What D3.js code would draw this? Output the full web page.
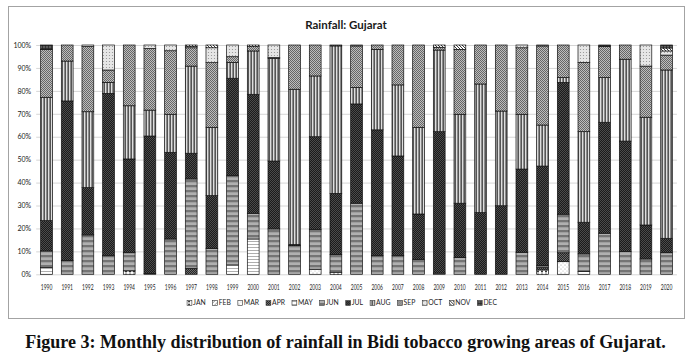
<!DOCTYPE html>
<html>

<script src="https://cdn.jsdelivr.net/npm/d3@7/dist/d3.min.js"></script>

<style>

  body, html {
    padding: 0;
    margin: 0;
    background: #fff;
  }

  svg {
    display: block;
    font-family: Lato, 'Open Sans', sans-serif;
  }

</style>

<body>
  <svg width="691" height="364"></svg>

  <script>

    // shares of annual rainfall (%) per month, 1990 .. 2020
    var years = ['1990','1991','1992','1993','1994','1995','1996','1997','1998','1999',
                 '2000','2001','2002','2003','2004','2005','2006','2007','2008','2009',
                 '2010','2011','2012','2013','2014','2015','2016','2017','2018','2019','2020'];
    var months = ['JAN','FEB','MAR','APR','MAY','JUN','JUL','AUG','SEP','OCT','NOV','DEC'];
    var yTicks = [0, 0.1, 0.2, 0.3, 0.4, 0.5, 0.6, 0.7, 0.8, 0.9, 1];

    var jan = [0,0,0,0,1.5,0,0,0,0,0, 0,0,0,0,0.9,0,0,0,0,0, 0,0,0,0,1.9,0,0,0,0,0, 0];
    var feb = [0,0,0,0,0,0,0,0,0,0, 0,0,0,0,0,0,0,0,0,0, 0,0,0,0,0,0,0,0,0,0, 0];
    var mar = [0,0,0,0,0,0,0,0,0,0, 0,0,0,2.2,0,0,0,0,0,0, 0,0,0,0,0,5.5,0,0,0,0, 0];
    var apr = [0,0,0,0,0,0,0,2.6,0,0, 0,0,0,0,0,0,0,0,0,0, 0,0,0,0,1.0,3.9,0,0,0,0, 0];
    var may = [3.0,0,0,0,0,0,0,0,0,4.1, 15.4,0,0,0,0,0,0,0,0,0, 0,0,0,0,0,0,1.2,0,0,0, 0];
    var jun = [7.2,6.0,17.2,8.1,7.9,0.3,15.4,39.0,11.3,38.9, 11.2,19.8,12.5,17.4,7.8,31.0,8.1,8.1,6.5,0.5,
               7.3,0,0,9.6,1.0,16.8,7.7,17.9,9.9,6.7, 9.4];
    var jul = [13.2,69.6,20.6,70.8,40.9,60.0,37.8,11.2,23.0,42.5, 51.9,29.6,0.5,40.4,26.6,43.3,54.9,43.5,19.8,61.7,
               23.7,26.9,29.9,36.3,43.3,57.5,13.8,48.4,48.2,14.8, 6.3];
    var aug = [53.8,17.4,33.1,4.8,23.2,11.3,16.6,38.0,29.8,6.9, 18.9,44.8,67.7,26.5,64.3,7.2,35.1,31.0,37.8,35.6,
               38.8,56.1,41.3,23.9,17.9,2.1,39.5,19.5,35.7,47.0, 73.4];
    var sep = [20.9,7.0,28.4,5.4,26.5,26.9,27.7,8.0,28.2,2.5, 1.9,0.3,19.3,13.5,0.4,18.1,1.9,17.4,35.9,1.2,
               28.3,17.0,28.8,29.0,34.5,14.2,30.2,13.5,6.2,22.3, 6.5];
    var oct = [0,0,0.7,10.9,0,1.5,2.5,0.5,6.5,5.1, 0,5.5,0,0,0,0.4,0,0,0,0, 0,0,0,1.2,0.4,0,7.6,0,0,9.2, 1.8];
    var nov = [0,0,0,0,0,0,0,0.7,1.2,0, 0.7,0,0,0,0,0,0,0,0,1.0, 1.9,0,0,0,0,0,0,0,0,0, 1.3];
    var dec = [1.9,0,0,0,0,0,0,0,0,0, 0,0,0,0,0,0,0,0,0,0, 0,0,0,0,0,0,0,0.7,0,0, 1.3];

    var monthValues = [jan, feb, mar, apr, may, jun, jul, aug, sep, oct, nov, dec];

    var rows = years.map(function (yr, i) {
      var r = { year: yr };
      months.forEach(function (m, j) { r[m] = monthValues[j][i]; });
      return r;
    });

    var svg = d3.select('svg');
    var defs = svg.append('defs');

    // grey fill patterns, one per month (excel print style)
    function pattern(id, w, h, bg, draw) {
      var p = defs.append('pattern')
        .attr('id', id)
        .attr('patternUnits', 'userSpaceOnUse')
        .attr('width', w)
        .attr('height', h);
      p.append('rect').attr('width', w).attr('height', h).attr('fill', bg);
      draw(p);
    }
    function checker(p, c) {
      p.append('rect').attr('width', 1).attr('height', 1).attr('fill', c);
      p.append('rect').attr('x', 1).attr('y', 1).attr('width', 1).attr('height', 1).attr('fill', c);
    }

    pattern('p-JAN', 4, 3, '#fff', function (p) {
      p.append('circle').attr('cx', 2).attr('cy', 1.5).attr('r', 0.9).attr('fill', '#111');
    });
    pattern('p-FEB', 4, 4, '#fff', function (p) {
      p.append('path').attr('d', 'M0,4L4,0').attr('stroke', '#666').attr('stroke-width', 0.7);
    });
    pattern('p-MAR', 4, 4, '#fff', function (p) {
      p.append('circle').attr('cx', 1).attr('cy', 1).attr('r', 0.5).attr('fill', '#888');
      p.append('circle').attr('cx', 3).attr('cy', 3).attr('r', 0.5).attr('fill', '#aaa');
    });
    pattern('p-APR', 2, 2, '#262626', function (p) { checker(p, '#6a6a6a'); });
    pattern('p-MAY', 4, 3, '#fff', function (p) {
      p.append('path').attr('d', 'M0,2L1,1L2,2L3,1L4,2').attr('fill', 'none')
        .attr('stroke', '#777').attr('stroke-width', 0.6);
    });
    pattern('p-JUN', 4, 5, '#b0b0b0', function (p) {
      p.append('rect').attr('width', 4).attr('height', 2.3).attr('fill', '#747474');
    });
    pattern('p-JUL', 2, 2, '#1b1b1b', function (p) { checker(p, '#4b4b4b'); });
    pattern('p-AUG', 3, 3, '#dedede', function (p) {
      p.append('rect').attr('x', 1.4).attr('width', 1.6).attr('height', 3).attr('fill', '#555');
    });
    pattern('p-SEP', 2, 2, '#bdbdbd', function (p) { checker(p, '#666'); });
    pattern('p-OCT', 3, 3, '#e6e6e6', function (p) {
      p.append('circle').attr('cx', 1.5).attr('cy', 1.5).attr('r', 0.6).attr('fill', '#8f8f8f');
    });
    pattern('p-NOV', 3, 3, '#fff', function (p) {
      p.append('path').attr('d', 'M0,0L3,3M-1,2L1,4M2,-1L4,1').attr('stroke', '#222').attr('stroke-width', 0.9);
    });
    pattern('p-DEC', 3, 3, '#5c5c5c', function (p) {
      p.append('path').attr('d', 'M0,0.5H3M0.5,0V3').attr('stroke', '#222').attr('stroke-width', 0.7);
    });

    // frame + title
    svg.append('rect')
      .attr('x', 8.5).attr('y', 6.5).attr('width', 676).attr('height', 312)
      .attr('fill', 'none').attr('stroke', '#a3a3a3');

    svg.append('text')
      .attr('x', 346).attr('y', 28.5)
      .attr('text-anchor', 'middle')
      .style('font-size', '11.5px').style('font-weight', 'bold').attr('fill', '#1a1a1a')
      .text('Rainfall: Gujarat');

    var x = d3.scaleBand().domain(years).range([36.2, 676.9]).paddingInner(0.43).paddingOuter(0.215),
        y = d3.scaleLinear().domain([0, 1]).range([274.3, 45]);

    var yAxis = d3.axisLeft(y)
      .tickValues(yTicks)
      .tickSize(-(676.9 - 36.2))
      .tickPadding(5)
      .tickFormat(d3.format('.0%'));

    var gy = svg.append('g').attr('transform', 'translate(36.2,0)').call(yAxis);
    gy.select('.domain').remove();
    gy.selectAll('line').attr('stroke', '#d6d6d6');
    gy.selectAll('text').style('font-size', '7px').attr('fill', '#222').style('font-family', 'Lato');

    var xAxis = d3.axisBottom(x).tickSize(0);
    var gx = svg.append('g').attr('transform', 'translate(0,274.3)').call(xAxis);
    gx.select('.domain').remove();
    gx.selectAll('text')
      .attr('y', 12.7).attr('dy', '0.35em')
      .attr('fill', '#222')
      .style('font-size', '7.5px').style('font-family', 'Lato')
      .attr('textLength', 11.6).attr('lengthAdjust', 'spacingAndGlyphs');

    var stack = d3.stack().keys(months).offset(d3.stackOffsetExpand);
    var layers = stack(rows);

    svg.append('g').selectAll('g')
      .data(layers)
      .join('g')
        .attr('fill', function (d) { return 'url(#p-' + d.key + ')'; })
      .selectAll('rect')
      .data(function (d) { return d.filter(function (s) { return s[1] - s[0] > 0; }); })
      .join('rect')
        .attr('x', function (d) { return x(d.data.year); })
        .attr('width', x.bandwidth())
        .attr('y', function (d) { return y(d[1]); })
        .attr('height', function (d) { return y(d[0]) - y(d[1]); })
        .attr('stroke', '#111')
        .attr('stroke-width', 0.7);

    // legend, laid out left to right then centred
    var legend = svg.append('g');
    var lx = 0;
    months.forEach(function (m) {
      var item = legend.append('g').attr('transform', 'translate(' + lx + ',0)');
      item.append('rect')
        .attr('x', 0).attr('y', -2.4).attr('width', 4.8).attr('height', 4.8)
        .attr('fill', 'url(#p-' + m + ')').attr('stroke', '#333').attr('stroke-width', 0.6);
      var t = item.append('text')
        .attr('x', 6).attr('dy', '0.35em')
        .style('font-size', '6.8px').attr('fill', '#222')
        .text(m);
      lx += 6 + t.node().getComputedTextLength() + 7;
    });
    legend.attr('transform', 'translate(' + (342 - (lx - 7) / 2) + ',303)');

    // figure caption
    var cap = svg.append('text')
      .attr('x', 345.5).attr('y', 348)
      .attr('text-anchor', 'middle')
      .style('font-family', "'Liberation Serif', 'Times New Roman', serif")
      .style('font-weight', 'bold')
      .style('font-size', '16px')
      .attr('fill', '#111')
      .text('Figure 3: Monthly distribution of rainfall in Bidi tobacco growing areas of Gujarat.');
    var w = cap.node().getComputedTextLength();
    cap.style('font-size', (16 * 641 / w) + 'px');

  </script>
</body>
</html>
